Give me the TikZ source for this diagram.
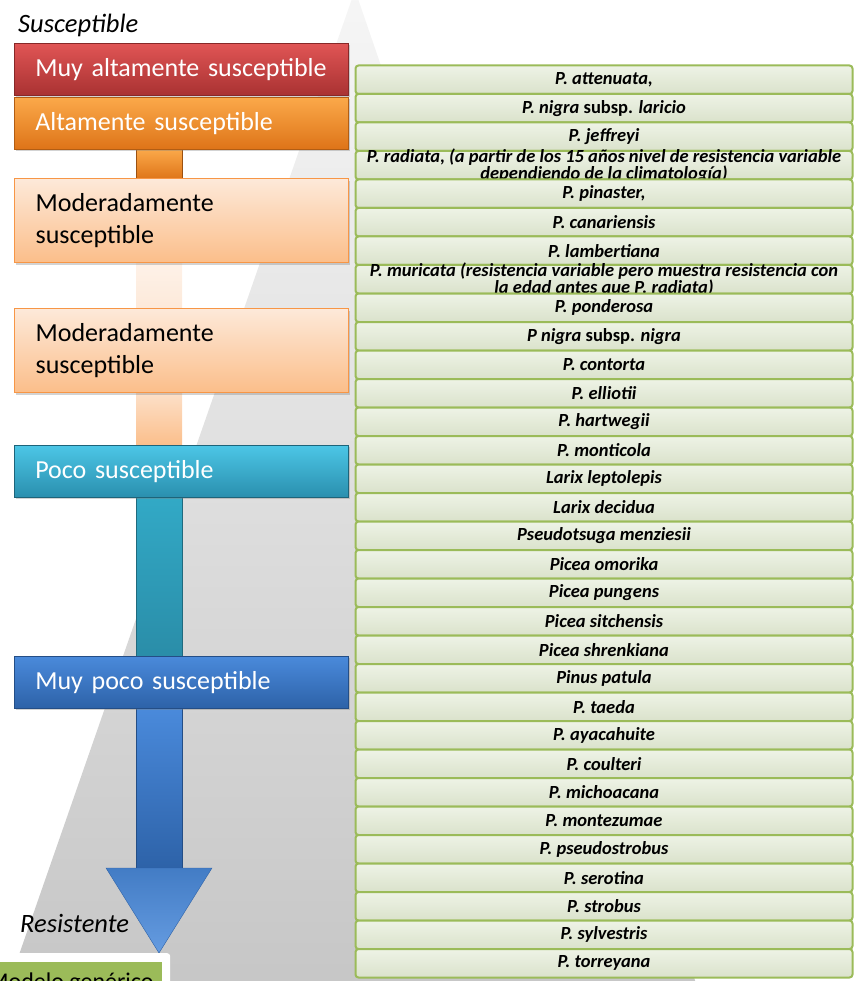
\documentclass[tikz,border=0pt]{standalone}
\usepackage{fontspec}
\setmainfont{Carlito}
\usetikzlibrary{shadows}
\definecolor{gborder}{HTML}{9BBB59}
\definecolor{gtop}{HTML}{EEF3E6}
\definecolor{gbot}{HTML}{DAE2CB}
\definecolor{redtop}{HTML}{E05555}
\definecolor{redbot}{HTML}{A93232}
\definecolor{ortop}{HTML}{FBA94A}
\definecolor{orbot}{HTML}{DE7418}
\definecolor{petop}{HTML}{FDE9D9}
\definecolor{pebot}{HTML}{FBBE8A}
\definecolor{peborder}{HTML}{F79646}
\definecolor{cytop}{HTML}{4CC6E6}
\definecolor{cybot}{HTML}{2A8FAE}
\definecolor{tealtop}{HTML}{32A9C6}
\definecolor{tealbot}{HTML}{2A8DA8}
\definecolor{bltop}{HTML}{4A8ADB}
\definecolor{blbot}{HTML}{2D62A8}
\definecolor{bgtop}{HTML}{F6F6F6}
\definecolor{bgbot}{HTML}{C6C6C6}
\definecolor{leafgreen}{HTML}{9BBB59}
\tikzset{
  lbox/.style={rectangle, anchor=north west, minimum width=334pt, text width=292pt,
    inner xsep=21pt, inner ysep=0pt, align=left, font=\fontsize{26}{32}\selectfont,
    drop shadow={shadow xshift=1.5pt, shadow yshift=-2pt, opacity=0.35}},
  pbox/.style={lbox, draw=peborder, line width=1.2pt, top color=petop, bottom color=pebot,
    minimum height=84pt, text=black},
  barbox/.style={rectangle, anchor=north west, minimum width=46pt, inner sep=0pt},
  gbox/.style={rectangle, anchor=north west, rounded corners=3pt, draw=gborder, line width=2pt,
    top color=gtop, bottom color=gbot, minimum width=497pt, minimum height=28.5pt, inner sep=0pt},
  gtext/.style={align=center, inner sep=0pt, font=\fontsize{18.5}{17}\selectfont\bfseries\itshape},
  sidelabel/.style={anchor=base west, inner sep=0pt, font=\fontsize{26.5}{30}\selectfont\itshape}
}
\begin{document}
\begin{tikzpicture}[x=1pt,y=-1pt]
\useasboundingbox (0,0) rectangle (856,981);
\clip (0,0) rectangle (856,981);
% background pyramid
\shade[top color=bgtop, bottom color=bgbot] (355,-10) -- (700,995) -- (5,995) -- cycle;
% connecting bars
\node[barbox, minimum height=30pt, top color=ortop, bottom color=orbot, draw=orbot!70!black, line width=0.6pt] (c1) at (136,149) {};
\node[barbox, minimum height=46pt, top color=petop!60!white, bottom color=petop] (c2) at (136,263) {};
\node[barbox, minimum height=54pt, top color=petop!80!pebot, bottom color=pebot] (c3) at (136,392) {};
\node[barbox, minimum height=160pt, top color=tealtop, bottom color=tealbot, draw=tealbot!75!black, line width=0.6pt] (c4) at (136,497) {};
\node[barbox, minimum height=161pt, top color=bltop, bottom color=blbot, draw=blbot!80!black, line width=0.6pt] (c5) at (136,708) {};
% arrow head
\coordinate (ahl) at (106,868);
\coordinate (ahr) at (212,868);
\coordinate (ahtip) at (159,953);
\shade[top color=bltop!90!black, bottom color=bltop!85!white, draw=blbot] (ahl) -- (ahr) -- (ahtip) -- cycle;
% level boxes
\node[lbox, minimum height=52pt, top color=redtop, bottom color=redbot, draw=redbot!80!black, line width=0.6pt, text=white] (b1) at (14,43) {Muy altamente susceptible};
\node[lbox, minimum height=52pt, top color=ortop, bottom color=orbot, draw=orbot!80!black, line width=0.6pt, text=white] (b2) at (14,97) {Altamente susceptible};
\node[pbox] (b3) at (14,178) {Moderadamente\\susceptible};
\node[pbox] (b4) at (14,308) {Moderadamente\\susceptible};
\node[lbox, minimum height=52pt, top color=cytop, bottom color=cybot, draw=cybot!70!black, line width=0.6pt, text=white] (b5) at (14,445) {Poco susceptible};
\node[lbox, minimum height=52pt, top color=bltop, bottom color=blbot, draw=blbot!80!black, line width=0.6pt, text=white] (b6) at (14,656) {Muy poco susceptible};
% side labels
\node[sidelabel] (sus) at (18,33) {Susceptible};
\node[sidelabel] (res) at (20,932) {Resistente};
% bottom-left partial box
\node[rectangle, anchor=north west, fill=white, rounded corners=3pt, minimum width=180pt, minimum height=45pt, inner sep=0pt] (blw) at (-10,953) {};
\node[rectangle, anchor=north west, fill=leafgreen, minimum width=172pt, minimum height=40pt, inner sep=0pt] (blg) at (-10,962) {};
\node[anchor=north west, inner sep=0pt, font=\fontsize{24}{28}\selectfont] (blt) at (-12,973) {Modelo genérico};
% species boxes
\foreach \t [count=\i] in {
  {P. attenuata,},
  {P. nigra \textup{subsp.} laricio},
  {P. jeffreyi},
  {P. radiata, (a partir de los 15 años nivel de resistencia variable\\dependiendo de la climatología)},
  {P. pinaster,},
  {P. canariensis},
  {P. lambertiana},
  {P. muricata (resistencia variable pero muestra resistencia con\\la edad antes que P. radiata)},
  {P. ponderosa},
  {P nigra \textup{subsp.} nigra},
  {P. contorta},
  {P. elliotii},
  {P. hartwegii},
  {P. monticola},
  {Larix leptolepis},
  {Larix decidua},
  {Pseudotsuga menziesii},
  {Picea omorika},
  {Picea pungens},
  {Picea sitchensis},
  {Picea shrenkiana},
  {Pinus patula},
  {P. taeda},
  {P. ayacahuite},
  {P. coulteri},
  {P. michoacana},
  {P. montezumae},
  {P. pseudostrobus},
  {P. serotina},
  {P. strobus},
  {P. sylvestris},
  {P. torreyana}} {
  \node[gbox] (g\i) at (354.5,{64.5+28.5*(\i-1)}) {};
  \node[gtext] (gt\i) at (g\i.center) {\t};
}
\end{tikzpicture}
\end{document}
